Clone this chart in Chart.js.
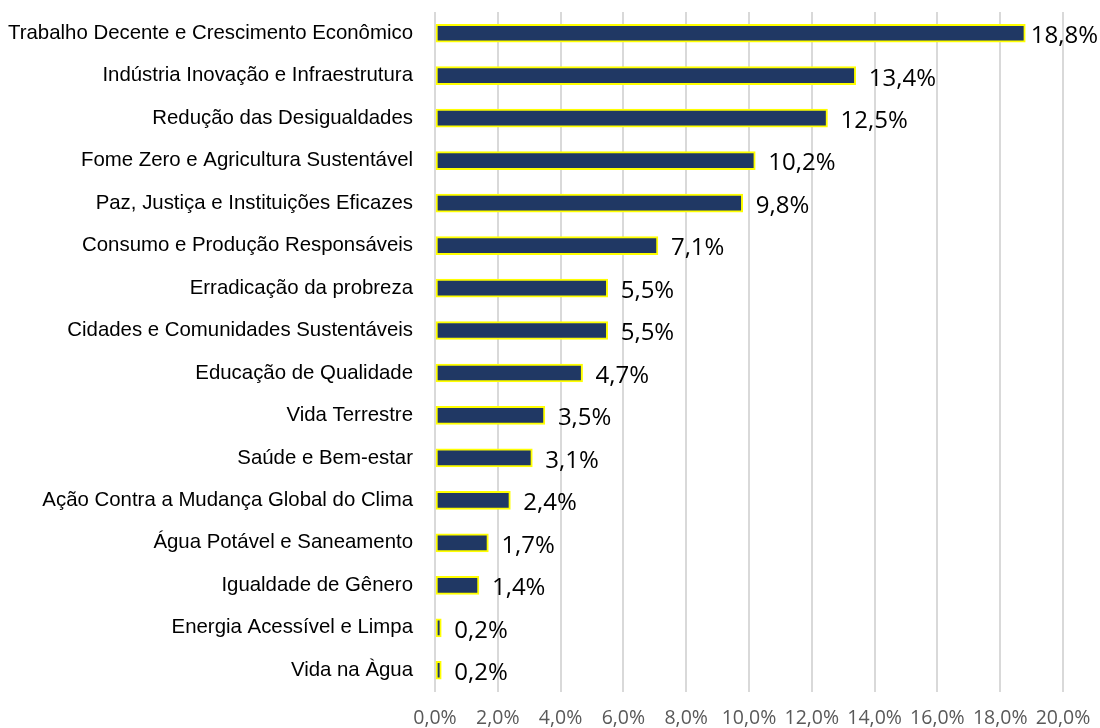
<!DOCTYPE html>
<html>
<head>
<meta charset="utf-8">
<script src="https://cdn.jsdelivr.net/npm/chart.js@4"></script>
<style>
  html, body { margin: 0; padding: 0; background: #fff; }
  #wrap { width: 1100px; height: 728px; }
</style>
</head>
<body>
<div id="wrap"><canvas id="odsChart" width="1100" height="728"></canvas></div>
<script>
const categories = [
  "Trabalho Decente e Crescimento Econômico",
  "Indústria Inovação e Infraestrutura",
  "Redução das Desigualdades",
  "Fome Zero e Agricultura Sustentável",
  "Paz, Justiça e Instituições Eficazes",
  "Consumo e Produção Responsáveis",
  "Erradicação da probreza",
  "Cidades e Comunidades Sustentáveis",
  "Educação de Qualidade",
  "Vida Terrestre",
  "Saúde e Bem-estar",
  "Ação Contra a Mudança Global do Clima",
  "Água Potável e Saneamento",
  "Igualdade de Gênero",
  "Energia Acessível e Limpa",
  "Vida na Àgua"
];
const shares = [18.8, 13.4, 12.5, 10.2, 9.8, 7.1, 5.5, 5.5, 4.7, 3.5, 3.1, 2.4, 1.7, 1.4, 0.2, 0.2];
const tickMin = 0;
const tickMax = 20;
const tickStep = 2;

function pct(v) {
  return v.toFixed(1).replace('.', ',') + '%';
}

// draws the value next to the end of each bar
const barValueLabels = {
  id: 'barValueLabels',
  afterDatasetsDraw(chart) {
    const ctx = chart.ctx;
    const meta = chart.getDatasetMeta(0);
    ctx.save();
    ctx.font = '24px "Open Sans"';
    ctx.fillStyle = '#000';
    ctx.textBaseline = 'middle';
    ctx.textAlign = 'left';
    meta.data.forEach((bar, i) => {
      const text = pct(shares[i]);
      const w = ctx.measureText(text).width;
      let x = bar.x + 13;
      if (x + w > chart.width - 2) x = chart.width - 2 - w;
      ctx.fillText(text, x, bar.y + 3);
    });
    ctx.restore();
  }
};

const ctx = document.getElementById('odsChart').getContext('2d');
new Chart(ctx, {
  type: 'bar',
  data: {
    labels: categories,
    datasets: [{
      data: shares,
      backgroundColor: '#203864',
      borderColor: '#ffff00',
      borderWidth: 2,
      borderSkipped: false,
      barThickness: 18
    }]
  },
  options: {
    indexAxis: 'y',
    responsive: false,
    animation: false,
    devicePixelRatio: 1,
    layout: { padding: { top: 12, right: 37, bottom: 0, left: 0 } },
    plugins: {
      legend: { display: false },
      tooltip: { enabled: false }
    },
    scales: {
      x: {
        min: tickMin,
        max: tickMax,
        border: { display: false },
        grid: { color: '#d9d9d9', lineWidth: 2, drawTicks: false },
        ticks: {
          stepSize: tickStep,
          padding: 15,
          color: '#595959',
          font: { family: '"Open Sans"', size: 19.5 },
          callback: (v) => pct(v)
        },
        afterFit(scale) {
          scale.height = 36.5;
          scale.paddingLeft = 0;
          scale.paddingRight = 0;
        }
      },
      y: {
        border: { display: false },
        grid: { display: false, drawTicks: false },
        ticks: {
          padding: 22,
          color: '#000',
          font: { family: '"Liberation Sans"', size: 20.4 }
        },
        afterFit(scale) {
          scale.width = 435;
          scale.paddingTop = 0;
          scale.paddingBottom = 0;
        }
      }
    }
  },
  plugins: [barValueLabels]
});
</script>
</body>
</html>
